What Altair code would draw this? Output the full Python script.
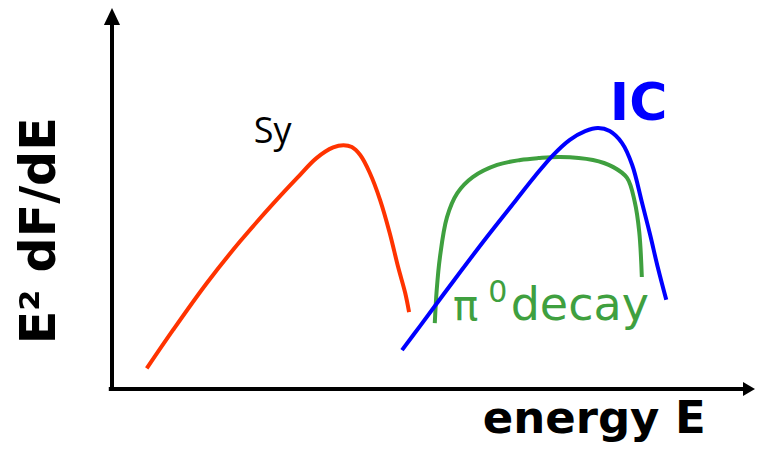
import altair as alt
import pandas as pd

# --- curve data (arbitrary units: energy 0..100, E^2 dF/dE 0..100) ---
sy_x = [5.4, 9.5, 14.7, 19.9, 25.1, 28.8, 31.8, 34.4, 36.0, 37.3, 38.6, 40.1, 41.7, 43.2, 44.5, 45.6, 46.2]
sy_y = [5.4, 15.5, 27.7, 38.7, 48.7, 55.4, 60.6, 63.4, 64.0, 63.5, 61.4, 56.7, 49.6, 40.9, 32.0, 25.2, 20.2]

pi_x = [50.2, 50.5, 51.0, 52.1, 53.7, 56.1, 59.9, 63.5, 66.3, 69.7, 74.8, 77.9, 80.1, 81.3, 82.0, 82.4]
pi_y = [17.3, 26.0, 34.6, 45.1, 51.4, 55.6, 58.8, 60.1, 60.6, 60.9, 60.1, 58.3, 55.4, 49.1, 41.2, 29.4]

ic_x = [45.1, 47.9, 53.0, 58.3, 62.7, 65.8, 68.6, 71.2, 73.6, 75.6, 77.4, 79.3, 80.9, 82.4, 83.7, 84.9, 86.2]
ic_y = [10.2, 16.5, 28.1, 39.9, 49.3, 55.9, 61.4, 65.4, 67.7, 68.5, 67.7, 64.6, 58.8, 49.1, 40.4, 31.8, 23.4]

series = ["Sy", "pi0", "IC"]
colors = ["#FF3300", "#3FA03F", "#0000FF"]

rows = []
for name, xs_, ys_ in [("Sy", sy_x, sy_y), ("pi0", pi_x, pi_y), ("IC", ic_x, ic_y)]:
    for i, (a, b) in enumerate(zip(xs_, ys_)):
        rows.append({"series": name, "E": a, "F": b, "i": i})
df = pd.DataFrame(rows)

xs = alt.Scale(domain=[0, 100], nice=False, zero=False)
ys = alt.Scale(domain=[0, 100], nice=False, zero=False)

lines = alt.Chart(df).mark_line(strokeWidth=4, interpolate="catmull-rom").encode(
    x=alt.X("E:Q", scale=xs, axis=None),
    y=alt.Y("F:Q", scale=ys, axis=None),
    color=alt.Color("series:N", scale=alt.Scale(domain=series, range=colors), legend=None),
    detail="series:N",
    order="i:Q",
)

# --- axes with arrows ---
axis_df = pd.DataFrame({"x": [0.0, -0.5], "y": [-0.4, 0.0], "x2": [0.0, 99.0], "y2": [96.0, 0.0]})
axes = alt.Chart(axis_df).mark_rule(color="black", strokeWidth=4, strokeCap="butt").encode(
    x=alt.X("x:Q", scale=xs, axis=None),
    y=alt.Y("y:Q", scale=ys, axis=None),
    x2="x2:Q",
    y2="y2:Q",
)

arrow_up = pd.DataFrame({"x": [0.0], "y": [97.77], "shape": ["M0,-1L0.95,1L-0.95,1Z"]})
arrow_right = pd.DataFrame({"x": [99.07], "y": [0.0], "shape": ["M1,0L-1,-1.17L-1,1.17Z"]})

def arrow(d, size):
    return alt.Chart(d).mark_point(filled=True, color="black", size=size, opacity=1, strokeWidth=0).encode(
        x=alt.X("x:Q", scale=xs, axis=None),
        y=alt.Y("y:Q", scale=ys, axis=None),
        shape=alt.Shape("shape:N", scale=None, legend=None),
    )

arrows = [arrow(arrow_up, 289), arrow(arrow_right, 144)]

# --- labels ---
def label(text, x, y, color, size, weight="bold", font="DejaVu Sans", align="center", angle=0, baseline="alphabetic"):
    d = pd.DataFrame({"t": [text], "x": [x], "y": [y]})
    return alt.Chart(d).mark_text(
        color=color, fontSize=size, fontWeight=weight, font=font, align=align,
        baseline=baseline, angle=angle,
    ).encode(
        x=alt.X("x:Q", scale=xs, axis=None),
        y=alt.Y("y:Q", scale=ys, axis=None),
        text="t:N",
    )

labels = [
    label("Sy", 25.0, 64.6, "black", 36, weight="normal", font="Open Sans"),
    label("IC", 81.9, 70.6, "#0000FF", 52),
    label("π", 55.0, 18.1, "#3FA03F", 42, weight="normal"),
    label("0", 60.0, 22.8, "#3FA03F", 30, weight="normal"),
    label("decay", 62.0, 18.1, "#3FA03F", 46, weight="normal", align="left"),
    label("energy E", 75.0, -11.5, "black", 45),
    label("E² dF/dE", -11.2, 41.5, "black", 49, angle=270, baseline="middle"),
]

chart = alt.layer(axes, *arrows, lines, *labels).properties(
    width=643,
    height=381,
    padding={"left": 104, "top": 0, "right": 0, "bottom": 54},
    autosize=alt.AutoSizeParams(type="none"),
).configure_view(stroke=None)

chart.save("out.html", embed_options={"renderer": "svg", "actions": False})
